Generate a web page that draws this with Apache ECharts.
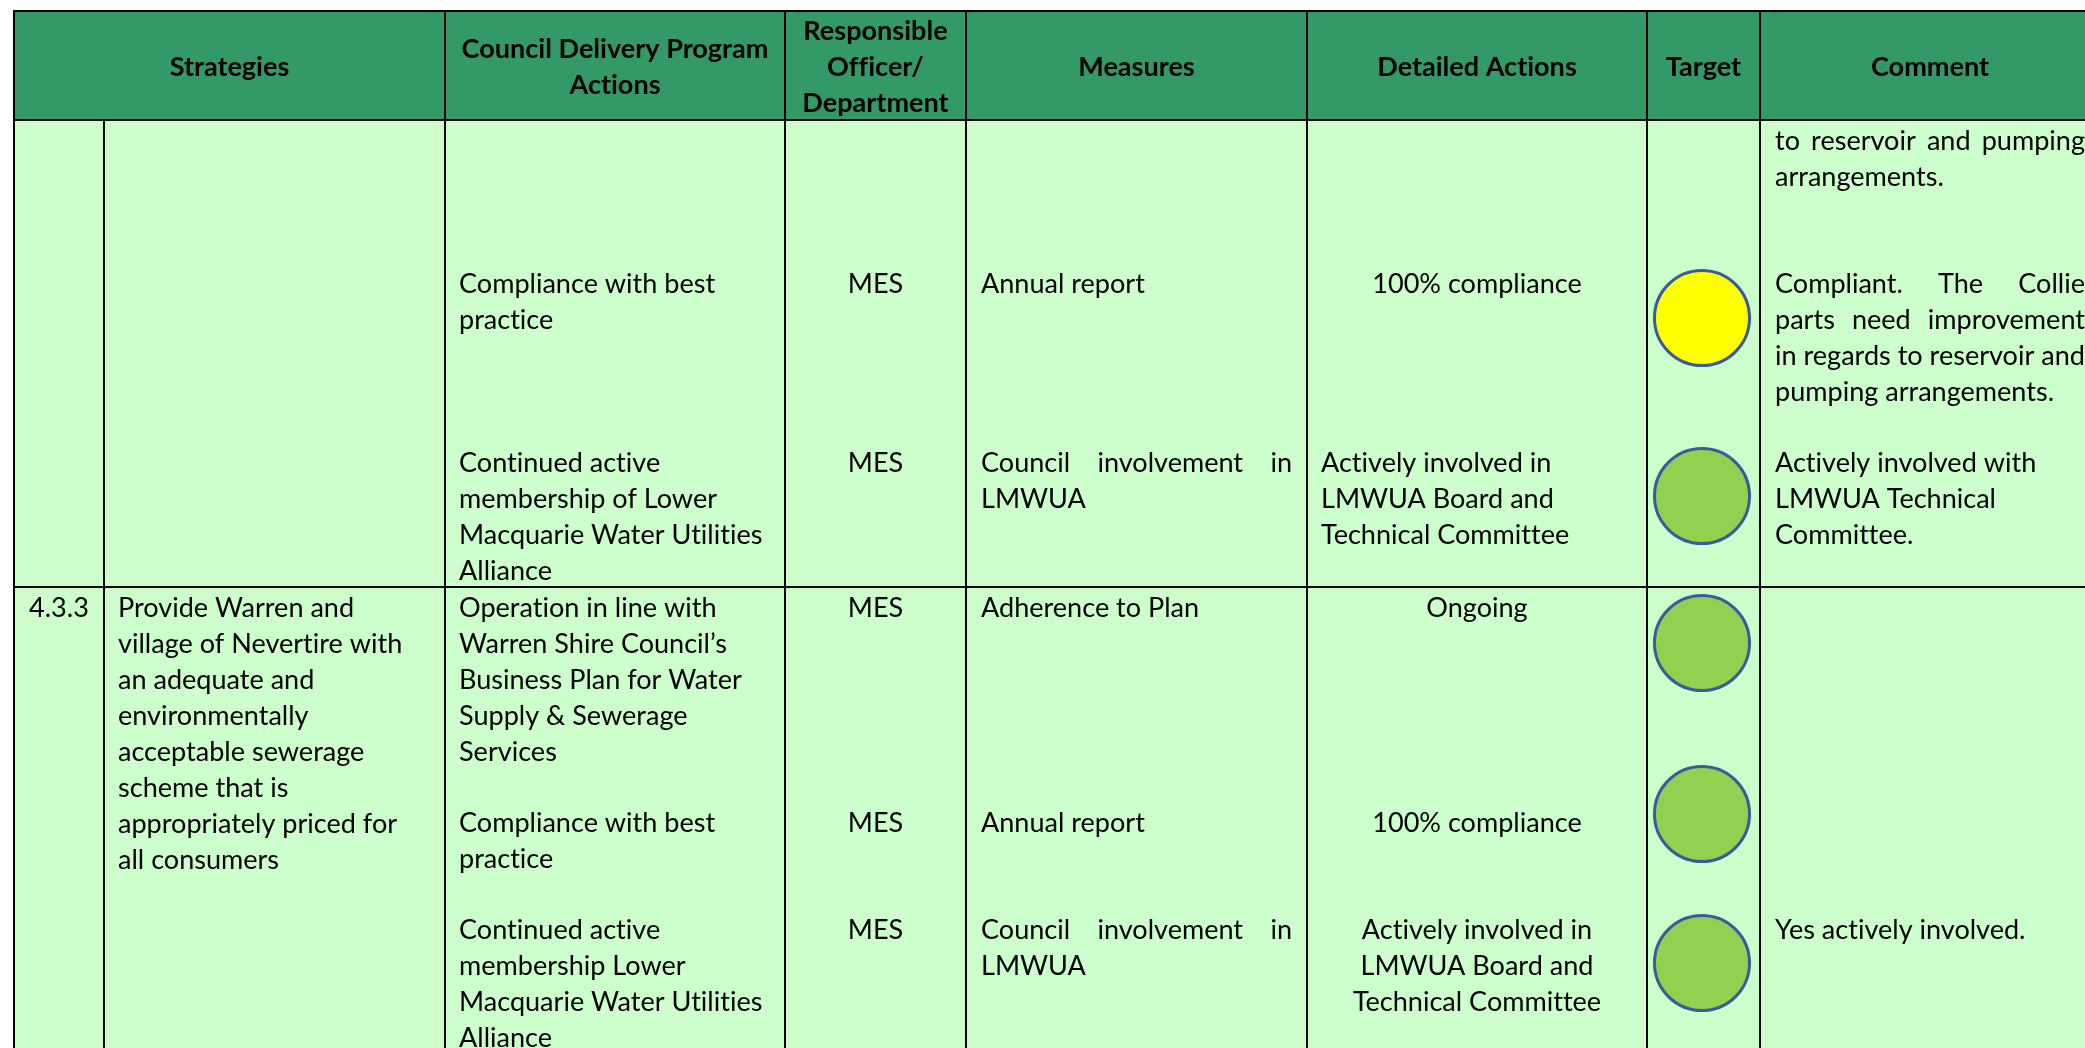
<!DOCTYPE html>
<html><head><meta charset="utf-8">
<style>html,body{margin:0;padding:0;background:#fff}#c{width:2085px;height:1048px}</style>
<script src="https://cdn.jsdelivr.net/npm/echarts@6/dist/echarts.min.js"></script>
</head><body><div id="c"></div>
<script>
// ---- table content ----
const headers = [["Strategies"],["Council Delivery Program","Actions"],["Responsible","Officer/","Department"],["Measures"],["Detailed Actions"],["Target"],["Comment"]];
const strategyCode = ["4.3.3"];
const strategyText = [["Provide Warren and","village of Nevertire with","an adequate and","environmentally","acceptable sewerage","scheme that is","appropriately priced for","all consumers"]];
const deliveryActions = [["Compliance with best","practice"],["Continued active","membership of Lower","Macquarie Water Utilities","Alliance"],["Operation in line with","Warren Shire Council\u2019s","Business Plan for Water","Supply & Sewerage","Services"],["Compliance with best","practice"],["Continued active","membership Lower","Macquarie Water Utilities","Alliance"]];
const officers = ["MES","MES","MES","MES","MES"];
const measures = [["Annual report"],["Council involvement in","LMWUA"],["Adherence to Plan"],["Annual report"],["Council involvement in","LMWUA"]];
const detailed = [["100% compliance"],["Actively involved in","LMWUA Board and","Technical Committee"],["Ongoing"],["100% compliance"],["Actively involved in","LMWUA Board and","Technical Committee"]];
const comments = [["to reservoir and pumping","arrangements."],["Compliant. The Collie","parts need improvement","in regards to reservoir and","pumping arrangements."],["Actively involved with","LMWUA Technical","Committee."],["Yes actively involved."]];
const targetStatus = ["amber","green","green","green","green"];

// ---- layout (page scale) ----
const colEdges = [14,104,445,785,966,1307,1647,1760,2100];
const rowEdges = [11,120,587,1060];
const entryY = [284,463,608,823,930];
const commentY = [141,284,463,930];
const circleY = [318,496,643,814,963];
const circleX = 1702;
const LH = 36;
const FONT = 'Lato, Carlito, sans-serif', FS = 26.4, SX = 1.025;
const COLORS = {head:'#339966', body:'#CCFFCC', line:'#000', amber:'#FFFF00', green:'#92D050', ring:'#3A5A9C'};
const noLig = s => s.replace(/t(?=[it])/g,'t\u200c').replace(/f(?=[fil])/g,'f\u200c');

const cells = [];
cells.push([colEdges[0],rowEdges[0],colEdges[2],rowEdges[1],'head']);
for(let i=2;i<8;i++) cells.push([colEdges[i],rowEdges[0],colEdges[i+1],rowEdges[1],'head']);
for(let r=1;r<3;r++) for(let i=0;i<8;i++) cells.push([colEdges[i],rowEdges[r],colEdges[i+1],rowEdges[r+1],'body']);

const texts = []; // x, y, text, align, bold, justifyWidth
function add(lines,x,y0,align,bold,just){lines.forEach((t,i)=>texts.push([x,y0+i*LH,t,align,bold?1:0,(just&&just[i])||0]));}
const hc = i=> i===0 ? (colEdges[0]+colEdges[2])/2 : (colEdges[i+1]+colEdges[i+2])/2;
headers.forEach((h,i)=>add(h,hc(i),67-(h.length-1)*18,'center',true));
add([strategyCode[0]],29,entryY[2],'left');
add(strategyText[0],118,entryY[2],'left');
deliveryActions.forEach((l,i)=>add(l,459,entryY[i],'left'));
officers.forEach((l,i)=>add([l],(colEdges[3]+colEdges[4])/2,entryY[i],'center'));
measures.forEach((l,i)=>add(l,981,entryY[i],'left',false,l.length>1?[311]:null));
detailed.forEach((l,i)=>{ if(i===1) add(l,1321,entryY[i],'left'); else add(l,(colEdges[5]+colEdges[6])/2,entryY[i],'center'); });
comments.forEach((l,i)=>add(l,1775,commentY[i],'left',false,i===0?[310]:i===1?[310,310]:null));

const ctx = document.createElement('canvas').getContext('2d');
function measure(t,bold){ctx.font=(bold?'bold ':'')+FS+'px '+FONT;return ctx.measureText(noLig(t)).width*SX;}

const chart = echarts.init(document.getElementById('c'),null,{renderer:'canvas'});
chart.setOption({
  animation:false,
  backgroundColor:'#fff',
  grid:{left:0,top:0,right:0,bottom:0},
  xAxis:{type:'value',min:0,max:2085,show:false},
  yAxis:{type:'value',min:0,max:1048,inverse:true,show:false},
  series:[
   {type:'custom',silent:true,clip:false,z:1,data:cells,
    renderItem(p,api){
      const a=api.coord([api.value(0),api.value(1)]),b=api.coord([api.value(2),api.value(3)]);
      return {type:'rect',shape:{x:a[0],y:a[1],width:b[0]-a[0],height:b[1]-a[1]},
        style:{fill:COLORS[cells[p.dataIndex][4]],stroke:COLORS.line,lineWidth:2}};
    }},
   {type:'scatter',silent:true,z:2,symbol:'circle',symbolSize:95,
    data:targetStatus.map((s,i)=>({value:[circleX,circleY[i]],itemStyle:{color:COLORS[s]}})),
    itemStyle:{borderColor:COLORS.ring,borderWidth:3,opacity:1}},
   {type:'custom',silent:true,clip:false,z:3,data:texts.map((t,i)=>[t[0],t[1],i]),
    renderItem(p,api){
      const t=texts[p.dataIndex],c=api.coord([t[0],t[1]]);
      const font=(t[4]?'bold ':'')+FS+'px '+FONT;
      const mk=(s,x,align)=>({type:'text',x,y:c[1],scaleX:SX,
        style:{text:noLig(s),font,fill:'#000',textAlign:align,textVerticalAlign:'middle'}});
      if(t[5]){
        const w=t[2].split(' '),sum=w.reduce((a,s)=>a+measure(s,t[4]),0),gap=(t[5]-sum)/(w.length-1);
        let x=c[0];const ch=[];
        w.forEach(s=>{ch.push(mk(s,x,'left'));x+=measure(s,t[4])+gap;});
        return {type:'group',children:ch};
      }
      return mk(t[2],c[0],t[3]);
    }}
  ]
});
</script></body></html>
